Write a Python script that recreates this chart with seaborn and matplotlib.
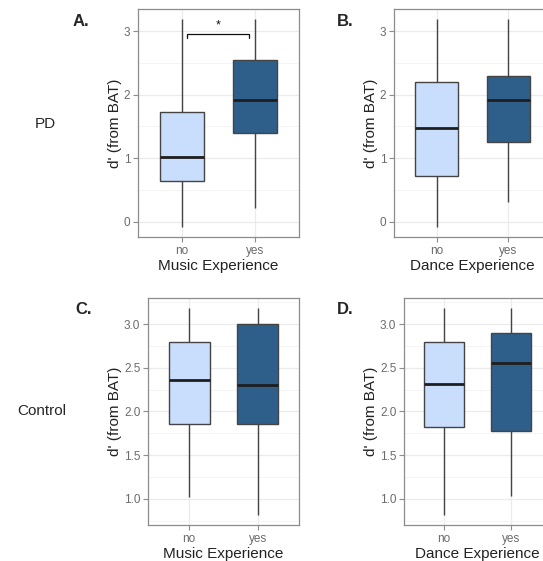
import numpy as np
import pandas as pd
import matplotlib
matplotlib.use("Agg")
import matplotlib.pyplot as plt
import seaborn as sns

# five-number summaries (min, Q1, median, Q3, max) of d'
groups = ["no", "yes"]
pd_music = {"no": [-0.08, 0.64, 1.02, 1.73, 3.19], "yes": [0.22, 1.40, 1.91, 2.55, 3.19]}
pd_dance = {"no": [-0.08, 0.72, 1.48, 2.20, 3.19], "yes": [0.31, 1.25, 1.91, 2.30, 3.19]}
ctrl_music = {"no": [1.02, 1.855, 2.36, 2.80, 3.18], "yes": [0.82, 1.855, 2.30, 3.00, 3.18]}
ctrl_dance = {"no": [0.82, 1.82, 2.31, 2.80, 3.18], "yes": [1.03, 1.78, 2.55, 2.90, 3.18]}

row1_ticks = [0, 1, 2, 3]
row1_labels = ["0", "1", "2", "3"]
row2_ticks = [1.0, 1.5, 2.0, 2.5, 3.0]
row2_labels = ["1.0", "1.5", "2.0", "2.5", "3.0"]

light = "#c9ddfc"
dark = "#2e5f8b"

sns.set_theme(style="white")
plt.rcParams["font.family"] = ["Liberation Sans", "DejaVu Sans"]

W, H = 543, 561
fig = plt.figure(figsize=(W / 100, H / 100), dpi=100)


def make_ax(left, right, top, bottom):
    return fig.add_axes([left / W, (H - bottom) / H, (right - left) / W, (bottom - top) / H])


def panel(ax, summ, xlabel, ticks, labels, minor):
    df = pd.DataFrame([(g, v) for g in groups for v in summ[g]], columns=["exp", "d"])
    sns.boxplot(data=df, x="exp", y="d", hue="exp", order=groups,
                palette={"no": light, "yes": dark}, saturation=1, legend=False, ax=ax,
                width=0.6, whis=np.inf, showcaps=False, linecolor="#444444",
                linewidth=1.0, medianprops=dict(color="#1e1e1e", linewidth=2.0),
                zorder=3)
    lo, hi = df["d"].min(), df["d"].max()
    pad = 0.05 * (hi - lo)
    ax.set_ylim(lo - pad, hi + pad)
    ax.set_xlim(-0.6, 1.6)
    ax.set_yticks(ticks)
    ax.set_yticklabels(labels)
    ax.set_yticks(minor, minor=True)
    ax.grid(True, which="major", color="#ebebeb", linewidth=0.9, zorder=0)
    ax.grid(True, which="minor", axis="y", color="#f3f3f3", linewidth=0.6, zorder=0)
    ax.set_axisbelow(True)
    for s in ax.spines.values():
        s.set_color("#8c8c8c")
        s.set_linewidth(0.9)
    ax.tick_params(axis="both", which="major", length=3.5, width=0.8, color="#8c8c8c",
                   labelsize=8.5, labelcolor="#6b6b6b", pad=2, bottom=True, left=True)
    ax.tick_params(which="minor", length=0)
    ax.set_xlabel(xlabel, fontsize=11, color="#222222", labelpad=2)
    ax.set_ylabel("d' (from BAT)", fontsize=11, color="#222222", labelpad=1.5)


axA = make_ax(138, 299, 9, 237)
axB = make_ax(394, 551, 9, 237)
axC = make_ax(148, 299, 298, 525)
axD = make_ax(404, 551, 298, 525)

panel(axA, pd_music, "Music Experience", row1_ticks, row1_labels, [0.5, 1.5, 2.5])
panel(axB, pd_dance, "Dance Experience", row1_ticks, row1_labels, [0.5, 1.5, 2.5])
panel(axC, ctrl_music, "Music Experience", row2_ticks, row2_labels, [0.75, 1.25, 1.75, 2.25, 2.75, 3.25])
panel(axD, ctrl_dance, "Dance Experience", row2_ticks, row2_labels, [0.75, 1.25, 1.75, 2.25, 2.75, 3.25])

# significance bracket in panel A
axA.plot([0.07, 0.07, 0.92, 0.92], [2.90, 2.96, 2.96, 2.90], color="#111111", lw=0.9,
         zorder=4)
axA.text(0.5, 3.0, "*", ha="center", va="bottom", fontsize=9, color="#111111")

# panel letters and row labels
for txt, x, y in [("A.", 73, 21), ("B.", 337, 21), ("C.", 75, 310), ("D.", 337, 310)]:
    fig.text(x / W, 1 - y / H, txt, fontsize=12, fontweight="bold", ha="left", va="center")
fig.text(45 / W, 1 - 124 / H, "PD", fontsize=11, ha="center", va="center")
fig.text(42 / W, 1 - 411 / H, "Control", fontsize=11, ha="center", va="center")

fig.savefig("out.png", dpi=100)
